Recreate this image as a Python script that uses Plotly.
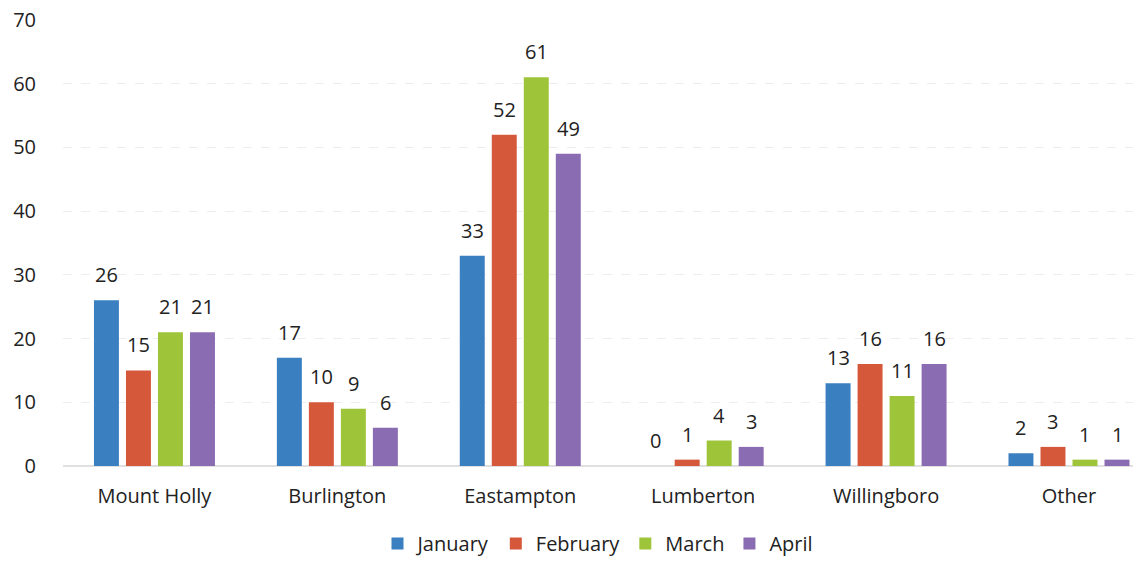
import plotly.graph_objects as go

categories = ["Mount Holly", "Burlington", "Eastampton", "Lumberton", "Willingboro", "Other"]
january = [26, 17, 33, 0, 13, 2]
february = [15, 10, 52, 1, 16, 3]
march = [21, 9, 61, 4, 11, 1]
april = [21, 6, 49, 3, 16, 1]
series_names = ["January", "February", "March", "April"]
colors = ["#3a7fc0", "#d6583b", "#9ec43a", "#8a6cb2"]

font_family = "'Open Sans', Lato, sans-serif"
fs = 20
bargap = 0.3
fig = go.Figure()
all_series = [january, february, march, april]
for k, (name, vals, col) in enumerate(zip(series_names, all_series, colors)):
    fig.add_trace(go.Bar(
        name=name, x=list(range(len(categories))), y=vals, marker_color=col,
        marker_line_width=0,
    ))
    slot = (1 - bargap) / len(all_series)
    for i, v in enumerate(vals):
        fig.add_annotation(
            x=i + (k - 1.5) * slot, y=v, text=str(v), showarrow=False,
            yanchor="bottom", yshift=10,
            font=dict(size=fs, color="#222222", family=font_family),
        )

fig.update_layout(
    width=1133, height=563,
    margin=dict(l=63, r=0, t=20, b=93),
    paper_bgcolor="white", plot_bgcolor="white",
    barmode="group", bargap=bargap, bargroupgap=0.22,
    font=dict(family=font_family, size=fs, color="#222222"),
    xaxis=dict(range=[-0.5, 5.35], showgrid=False, showline=False, zeroline=False,
               tickmode="array", tickvals=list(range(len(categories))), ticktext=categories,
               tickfont=dict(size=fs), ticks="", ticklabelstandoff=16),
    yaxis=dict(range=[0, 70], dtick=10, showgrid=True, gridcolor="#ededed",
               griddash="dash", zeroline=True, zerolinecolor="#e0e0e0",
               showline=False, tickfont=dict(size=fs), ticklabelstandoff=26),
    legend=dict(orientation="h", x=0.5, xanchor="center", y=-0.13, yanchor="top",
                font=dict(size=fs), itemwidth=30, traceorder="normal"),
)

fig.write_html("out.html")
